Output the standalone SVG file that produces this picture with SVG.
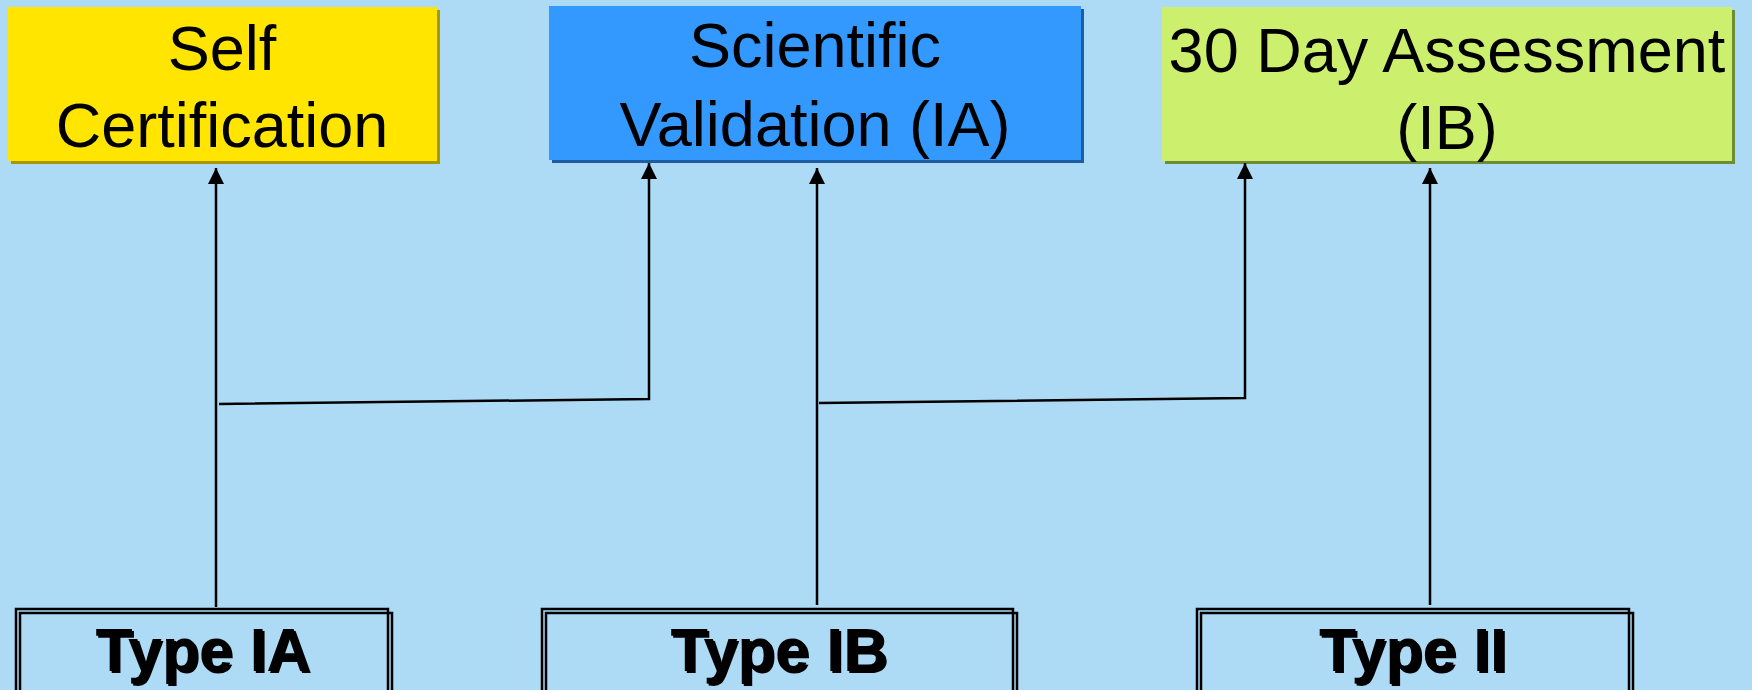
<svg xmlns="http://www.w3.org/2000/svg" width="1752" height="690" viewBox="0 0 1752 690">
<defs>
<style>
.t{font-family:"Liberation Sans",Arial,sans-serif;font-size:63px;fill:#000;text-anchor:middle}
.b{font-family:"Liberation Sans",Arial,sans-serif;font-size:62px;font-weight:bold;fill:#000;text-anchor:middle}
.frame{fill:none;stroke:#000;stroke-width:2.5}
.c{fill:none;stroke:#000;stroke-width:2.5}
</style>
<marker id="ah" markerUnits="userSpaceOnUse" markerWidth="16" markerHeight="16" viewBox="0 0 16 16" refX="16" refY="8" orient="auto">
<path d="M0,0 L16,8 L0,16 Z" fill="#000"/>
</marker>
</defs>
<rect width="1752" height="690" fill="#ADDAF5"/>
<g id="self-cert">
<rect x="11" y="10" width="429" height="154" fill="#A89800"/>
<rect x="8" y="7" width="429" height="154" fill="#FFE500"/>
<text class="t" x="222" y="70">Self</text>
<text class="t" x="222" y="147">Certification</text>
</g>
<g id="sci-val">
<rect x="552" y="9" width="532" height="154" fill="#1F5DA3"/>
<rect x="549" y="6" width="532" height="154" fill="#3399FF"/>
<text class="t" x="815" y="67">Scientific</text>
<text class="t" x="815" y="146">Validation (IA)</text>
</g>
<g id="day30">
<rect x="1165" y="10" width="570" height="154" fill="#6E8C36"/>
<rect x="1162" y="7" width="570" height="154" fill="#CCF06E"/>
<text class="t" x="1447" y="72">30 Day Assessment</text>
<text class="t" x="1447" y="149">(IB)</text>
</g>
<g id="connectors">
<path class="c" d="M216,607 L216,168" marker-end="url(#ah)"/>
<path class="c" d="M219,404 L649,399 L649,163" marker-end="url(#ah)"/>
<path class="c" d="M817,605 L817,168" marker-end="url(#ah)"/>
<path class="c" d="M819,403 L1245,398 L1245,163" marker-end="url(#ah)"/>
<path class="c" d="M1430,605 L1430,168" marker-end="url(#ah)"/>
</g>
<g id="type-ia">
<rect class="frame" x="16" y="609" width="372" height="100"/>
<rect class="frame" x="20" y="613" width="372" height="100"/>
<text class="b" x="203" y="671" textLength="215" lengthAdjust="spacingAndGlyphs">Type IA</text>
<text class="b" x="205" y="673" textLength="215" lengthAdjust="spacingAndGlyphs">Type IA</text>
</g>
<g id="type-ib">
<rect class="frame" x="542" y="609" width="471" height="100"/>
<rect class="frame" x="546" y="613" width="471" height="100"/>
<text class="b" x="779" y="671" textLength="217" lengthAdjust="spacingAndGlyphs">Type IB</text>
<text class="b" x="781" y="673" textLength="217" lengthAdjust="spacingAndGlyphs">Type IB</text>
</g>
<g id="type-ii">
<rect class="frame" x="1197" y="609" width="432" height="100"/>
<rect class="frame" x="1201" y="613" width="432" height="100"/>
<text class="b" x="1413" y="671" textLength="188" lengthAdjust="spacingAndGlyphs">Type II</text>
<text class="b" x="1415" y="673" textLength="188" lengthAdjust="spacingAndGlyphs">Type II</text>
</g>
</svg>
